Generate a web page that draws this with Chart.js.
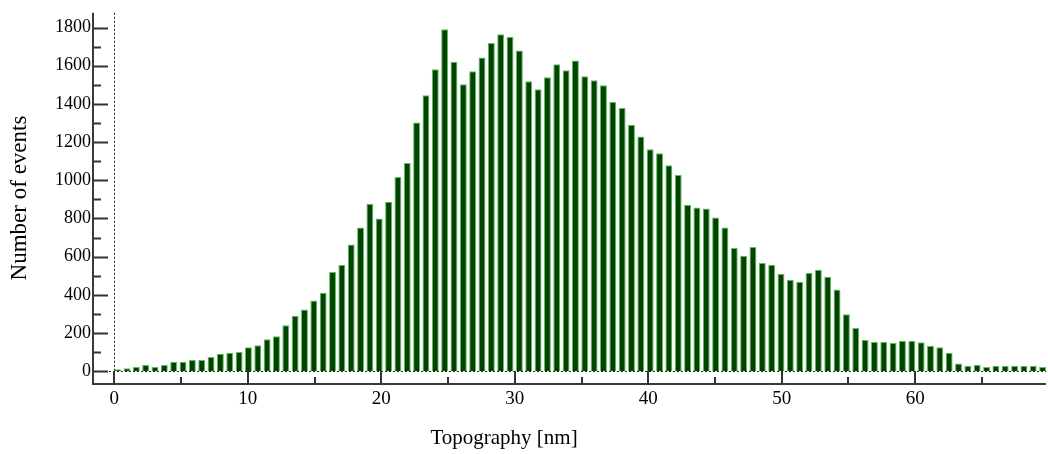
<!DOCTYPE html>
<html>
<head>
<meta charset="utf-8">
<script src="https://cdn.jsdelivr.net/npm/chart.js@4.4.1/dist/chart.umd.min.js"></script>
<style>
  html, body { margin: 0; padding: 0; background: #fff; }
  #wrap { width: 1048px; height: 454px; }
</style>
</head>
<body>
<div id="wrap"><canvas id="histChart" width="1048" height="454"></canvas></div>
<script>
  // histogram counts, one per 0.7 nm bin starting at 0 nm
  const counts = [
    10, 16, 22, 33, 22, 33, 50, 50, 59, 59,
    74, 91, 97, 100, 126, 136, 168, 183, 241, 291,
    323, 370, 411, 519, 556, 663, 752, 877, 800, 888,
    1017, 1090, 1302, 1445, 1581, 1791, 1621, 1503, 1571, 1643,
    1719, 1765, 1752, 1679, 1519, 1477, 1540, 1607, 1576, 1627,
    1545, 1524, 1498, 1410, 1379, 1291, 1229, 1162, 1141, 1079,
    1028, 872, 857, 852, 805, 753, 645, 605, 650, 567,
    557, 510, 479, 469, 515, 531, 495, 428, 298, 226,
    164, 153, 153, 148, 159, 159, 152, 133, 126, 97,
    40, 28, 34, 22, 28, 28, 28, 28, 28, 22
  ];
  const binWidth = 0.7;
  const barFrac = 0.7; // bars sit at the left of each bin

  const xTicks = [0, 10, 20, 30, 40, 50, 60];
  const xMinorTicks = [5, 15, 25, 35, 45, 55, 65];
  const yTicks = [0, 200, 400, 600, 800, 1000, 1200, 1400, 1600, 1800];
  const yMinorTicks = [100, 300, 500, 700, 900, 1100, 1300, 1500, 1700];

  const xTitle = "Topography [nm]";
  const yTitle = "Number of events";

  const points = counts.map((c, i) => ({ x: i * binWidth + barFrac * binWidth / 2, y: c }));

  const serif = "'Liberation Serif', 'Times New Roman', serif";

  const axesPlugin = {
    id: "axesPlugin",
    afterDatasetsDraw(chart) {
      const ctx = chart.ctx;
      const xs = chart.scales.x;
      const ys = chart.scales.y;
      const area = chart.chartArea;
      const x0 = xs.getPixelForValue(0);
      const y0 = ys.getPixelForValue(0);

      ctx.save();
      // dotted zero lines
      ctx.strokeStyle = "#222";
      ctx.lineWidth = 1;
      ctx.setLineDash([2, 2]);
      ctx.beginPath();
      ctx.moveTo(Math.round(x0) + 0.5, area.top);
      ctx.lineTo(Math.round(x0) + 0.5, area.bottom);
      ctx.moveTo(area.left, Math.round(y0) + 0.5);
      ctx.lineTo(area.right, Math.round(y0) + 0.5);
      ctx.stroke();
      ctx.setLineDash([]);

      // axis lines
      ctx.strokeStyle = "#3a3a3a";
      ctx.lineWidth = 2;
      ctx.beginPath();
      ctx.moveTo(area.left, area.top);
      ctx.lineTo(area.left, area.bottom);
      ctx.lineTo(area.right, area.bottom);
      ctx.stroke();

      // inward tick marks
      ctx.lineWidth = 2;
      ctx.strokeStyle = "#333";
      ctx.beginPath();
      yTicks.forEach(v => {
        const y = Math.round(ys.getPixelForValue(v)) + 0.5;
        ctx.moveTo(area.left, y);
        ctx.lineTo(area.left + 15, y);
      });
      yMinorTicks.forEach(v => {
        const y = Math.round(ys.getPixelForValue(v)) + 0.5;
        ctx.moveTo(area.left, y);
        ctx.lineTo(area.left + 8, y);
      });
      xTicks.forEach(v => {
        const x = Math.round(xs.getPixelForValue(v));
        ctx.moveTo(x, area.bottom);
        ctx.lineTo(x, area.bottom - 13);
      });
      xMinorTicks.forEach(v => {
        const x = Math.round(xs.getPixelForValue(v));
        ctx.moveTo(x, area.bottom);
        ctx.lineTo(x, area.bottom - 7);
      });
      ctx.stroke();
      ctx.restore();
    },
    afterDraw(chart) {
      const ctx = chart.ctx;
      ctx.save();
      ctx.fillStyle = "#000";
      ctx.textAlign = "center";
      ctx.textBaseline = "middle";
      ctx.font = "21px " + serif;
      ctx.fillText(xTitle, 504, 438);
      ctx.font = "23px " + serif;
      ctx.translate(20, 198);
      ctx.rotate(-Math.PI / 2);
      ctx.fillText(yTitle, 0, 0);
      ctx.restore();
    }
  };

  function createChart() {
    const ctx = document.getElementById("histChart").getContext("2d");
    const myChart = new Chart(ctx, {
      type: "bar",
      data: {
        datasets: [
          {
            label: yTitle,
            data: points,
            backgroundColor: "#004400",
            borderColor: "#5cbf5c",
            borderWidth: 1,
            barPercentage: 0.74,
            categoryPercentage: 1.0,
          },
        ],
      },
      options: {
        responsive: false,
        animation: false,
        layout: { padding: { top: 8, right: 2, left: 0, bottom: 0 } },
        plugins: {
          legend: { display: false },
          tooltip: { enabled: false },
        },
        scales: {
          x: {
            type: "linear",
            min: -1.6,
            max: 69.8,
            offset: false,
            grid: { display: false, drawTicks: false },
            border: { display: false },
            afterBuildTicks: s => { s.ticks = xTicks.map(v => ({ value: v })); },
            afterFit: s => { s.height = 70; },
            ticks: {
              color: "#000",
              padding: 4,
              maxRotation: 0,
              font: { family: serif, size: 19 },
              callback: v => String(v),
            },
          },
          y: {
            min: -67,
            max: 1877,
            grid: { display: false, drawTicks: false },
            border: { display: false },
            afterBuildTicks: s => { s.ticks = yTicks.map(v => ({ value: v })); },
            afterFit: s => { s.width = 93; },
            ticks: {
              color: "#000",
              padding: 2,
              font: { family: serif, size: 18 },
              callback: v => String(v),
            },
          },
        },
      },
      plugins: [axesPlugin],
    });
  }

  createChart();
</script>
</body>
</html>
